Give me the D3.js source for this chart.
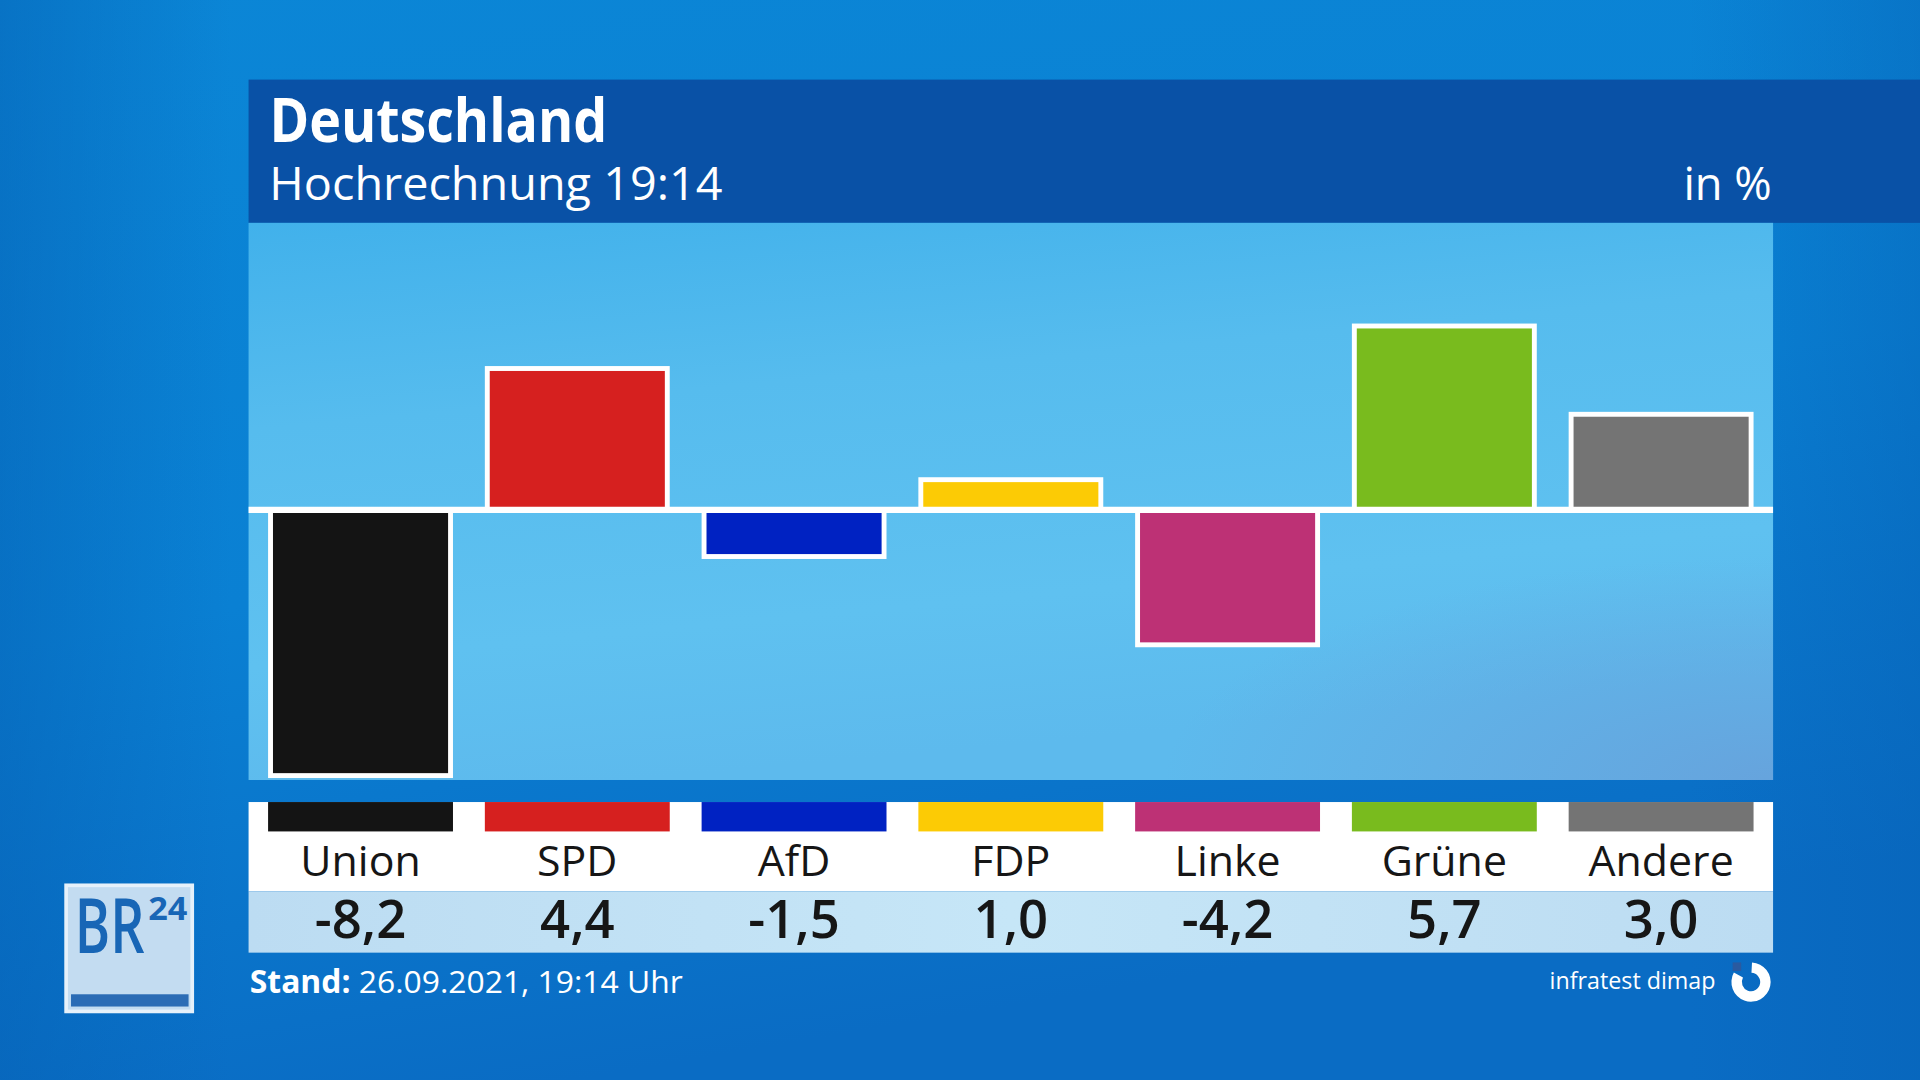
<!DOCTYPE html>
<html>
    <head>
        <meta charset="utf-8">
        <script src="https://d3js.org/d3.v7.min.js"></script>
        <title>Deutschland - Hochrechnung 19:14</title>

        <!-- style -->
        <style>
            html, body {
                margin: 0;
                padding: 0;
                overflow: hidden;
                background: #0a78cc;
            }

            svg {
                display: block;
                font-family: 'Open Sans', 'Noto Sans', sans-serif;
            }
        </style>
    </head>
    <body>
        <svg></svg>
    </body>
    <script>
        // data: Gewinn und Verlust gegenueber 2017, in Prozentpunkten
        var parties = ['Union', 'SPD', 'AfD', 'FDP', 'Linke', 'Grüne', 'Andere'];
        var changes = [-8.2, 4.4, -1.5, 1.0, -4.2, 5.7, 3.0];
        var partyColors = ['#141414', '#d6201f', '#0022c2', '#fccb05', '#bd3175', '#79bb1e', '#747474'];

        var title = 'Deutschland',
            subtitle = 'Hochrechnung 19:14',
            unit = 'in %',
            standLabel = 'Stand:',
            standText = ' 26.09.2021, 19:14 Uhr',
            source = 'infratest dimap';

        var data = parties.map(function (p, i) {
            return {party: p, change: changes[i], color: partyColors[i]};
        });

        // drawn in the 1568 x 882 frame of the broadcast graphic, scaled to the window
        var W = 1568, H = 882;
        var panel = {left: 203, right: 1448, top: 182, bottom: 637};

        var svg = d3.select('svg')
            .attr('width', 1920)
            .attr('height', 1080)
            .attr('viewBox', '0 0 ' + W + ' ' + H);

        // gradients
        var defs = svg.append('defs');

        var bg = defs.append('linearGradient').attr('id', 'bg')
            .attr('x1', 0).attr('y1', 0).attr('x2', 0.3).attr('y2', 1);
        bg.append('stop').attr('offset', '0%').attr('stop-color', '#0b86d6');
        bg.append('stop').attr('offset', '55%').attr('stop-color', '#0a80d3');
        bg.append('stop').attr('offset', '100%').attr('stop-color', '#0a6cc4');

        var bgSide = defs.append('linearGradient').attr('id', 'bgSide')
            .attr('x1', 0).attr('y1', 0).attr('x2', 1).attr('y2', 0);
        bgSide.append('stop').attr('offset', '0%').attr('stop-color', '#0560b4').attr('stop-opacity', 0.5);
        bgSide.append('stop').attr('offset', '12%').attr('stop-color', '#0560b4').attr('stop-opacity', 0);
        bgSide.append('stop').attr('offset', '88%').attr('stop-color', '#0560b4').attr('stop-opacity', 0);
        bgSide.append('stop').attr('offset', '100%').attr('stop-color', '#0560b4').attr('stop-opacity', 0.4);

        var area = defs.append('linearGradient').attr('id', 'area')
            .attr('x1', 0).attr('y1', 0).attr('x2', 0.25).attr('y2', 1);
        area.append('stop').attr('offset', '0%').attr('stop-color', '#41b1eb');
        area.append('stop').attr('offset', '35%').attr('stop-color', '#56bcee');
        area.append('stop').attr('offset', '75%').attr('stop-color', '#5fc1f0');
        area.append('stop').attr('offset', '100%').attr('stop-color', '#5dbaed');

        var areaCorner = defs.append('radialGradient').attr('id', 'areaCorner')
            .attr('cx', 1).attr('cy', 1).attr('r', 0.4);
        areaCorner.append('stop').attr('offset', '0%').attr('stop-color', '#6a9ad6').attr('stop-opacity', 0.7);
        areaCorner.append('stop').attr('offset', '100%').attr('stop-color', '#6a9ad6').attr('stop-opacity', 0);

        var values = defs.append('linearGradient').attr('id', 'values')
            .attr('x1', 0).attr('y1', 0).attr('x2', 1).attr('y2', 0);
        values.append('stop').attr('offset', '0%').attr('stop-color', '#bcdcf2');
        values.append('stop').attr('offset', '50%').attr('stop-color', '#c6e6f7');
        values.append('stop').attr('offset', '100%').attr('stop-color', '#bcdcf2');

        // background
        svg.append('rect').attr('width', W).attr('height', H).attr('fill', 'url(#bg)');
        svg.append('rect').attr('width', W).attr('height', H).attr('fill', 'url(#bgSide)');

        // header
        svg.append('rect')
            .attr('x', panel.left).attr('y', 65)
            .attr('width', W - panel.left).attr('height', panel.top - 65)
            .attr('fill', '#0951a6');

        svg.append('text')
            .attr('x', 220).attr('y', 116)
            .attr('fill', 'white')
            .style('font-size', '50px')
            .style('font-weight', 700)
            .attr('textLength', 276)
            .attr('lengthAdjust', 'spacingAndGlyphs')
            .text(title);

        svg.append('text')
            .attr('x', 220).attr('y', 163)
            .attr('fill', 'white')
            .style('font-size', '38px')
            .style('font-weight', 500)
            .attr('textLength', 370)
            .attr('lengthAdjust', 'spacingAndGlyphs')
            .text(subtitle);

        svg.append('text')
            .attr('x', 1447).attr('y', 163)
            .attr('fill', 'white')
            .style('font-size', '37px')
            .style('font-weight', 500)
            .style('text-anchor', 'end')
            .text(unit);

        // chart panel
        svg.append('rect')
            .attr('x', panel.left).attr('y', panel.top)
            .attr('width', panel.right - panel.left).attr('height', panel.bottom - panel.top)
            .attr('fill', 'url(#area)');
        svg.append('rect')
            .attr('x', panel.left).attr('y', panel.top)
            .attr('width', panel.right - panel.left).attr('height', panel.bottom - panel.top)
            .attr('fill', 'url(#areaCorner)');

        // scales
        var xScale = d3.scaleBand()
            .domain(parties)
            .range([panel.left, panel.right])
            .paddingInner(0.147)
            .paddingOuter(0.09);

        var yScale = d3.scaleLinear()
            .domain([-8.26, 8.78])
            .range([panel.bottom, panel.top]);

        var stroke = 4;
        var y0 = yScale(0);

        // bars
        svg.selectAll('.bar').data(data)
            .enter().append('rect')
                .attr('class', 'bar')
                .attr('x', function (d) { return xScale(d.party) + stroke / 2; })
                .attr('width', xScale.bandwidth() - stroke)
                .attr('y', function (d) { return d.change > 0 ? yScale(d.change) + stroke / 2 : y0; })
                .attr('height', function (d) { return Math.abs(yScale(d.change) - y0) - stroke / 2; })
                .attr('fill', function (d) { return d.color; })
                .attr('stroke', 'white')
                .attr('stroke-width', stroke);

        // zero line
        svg.append('line')
            .attr('x1', panel.left).attr('x2', panel.right)
            .attr('y1', y0).attr('y2', y0)
            .attr('stroke', 'white')
            .attr('stroke-width', 5);

        // legend
        svg.append('rect')
            .attr('x', panel.left).attr('y', 655)
            .attr('width', panel.right - panel.left).attr('height', 73)
            .attr('fill', 'white');
        svg.append('rect')
            .attr('x', panel.left).attr('y', 728)
            .attr('width', panel.right - panel.left).attr('height', 50)
            .attr('fill', 'url(#values)');

        var fmt = d3.formatLocale({decimal: ',', thousands: '.', grouping: [3], currency: ['', ' €'], minus: '-'}).format('.1f');

        var legend = svg.selectAll('.legend').data(data)
            .enter().append('g')
                .attr('class', 'legend')
                .attr('transform', function (d) { return 'translate(' + xScale(d.party) + ',0)'; });

        legend.append('rect')
            .attr('y', 655)
            .attr('width', xScale.bandwidth())
            .attr('height', 24)
            .attr('fill', function (d) { return d.color; });

        legend.append('text')
            .attr('x', xScale.bandwidth() / 2)
            .attr('y', 715)
            .attr('fill', '#161616')
            .style('font-size', '35px')
            .style('font-weight', 500)
            .style('text-anchor', 'middle')
            .text(function (d) { return d.party; });

        legend.append('text')
            .attr('x', xScale.bandwidth() / 2)
            .attr('y', 766)
            .attr('fill', '#161616')
            .style('font-size', '43px')
            .style('font-weight', 600)
            .style('text-anchor', 'middle')
            .text(function (d) { return fmt(d.change); });

        // footer
        var stand = svg.append('text')
            .attr('x', 204).attr('y', 811)
            .attr('fill', 'white')
            .style('font-size', '26px')
            .style('font-weight', 500);
        stand.append('tspan').style('font-weight', 700).text(standLabel);
        stand.append('tspan').text(standText);

        svg.append('text')
            .attr('x', 1401).attr('y', 808)
            .attr('fill', 'white')
            .style('font-size', '19px')
            .style('font-weight', 500)
            .style('text-anchor', 'end')
            .text(source);

        var ring = d3.arc()
            .innerRadius(7.5)
            .outerRadius(16)
            .startAngle(0.05)
            .endAngle(Math.PI * 2 * 0.83);
        svg.append('path')
            .attr('transform', 'translate(1430,802)')
            .attr('d', ring())
            .attr('fill', 'white');
        svg.append('rect')
            .attr('x', 1415).attr('y', 786)
            .attr('width', 7).attr('height', 7)
            .attr('fill', '#2a5aa0');

        // BR24 logo
        var logo = svg.append('g');
        logo.append('rect')
            .attr('x', 54).attr('y', 723)
            .attr('width', 103).attr('height', 103)
            .attr('fill', '#c3dcf1')
            .attr('stroke', '#e6f1fa')
            .attr('stroke-width', 3);
        logo.append('text')
            .attr('x', 61).attr('y', 778)
            .attr('fill', '#1866b6')
            .style('font-size', '62px')
            .style('font-weight', 600)
            .attr('textLength', 57)
            .attr('lengthAdjust', 'spacingAndGlyphs')
            .text('BR');
        logo.append('text')
            .attr('x', 121).attr('y', 751)
            .attr('fill', '#1866b6')
            .style('font-size', '26px')
            .style('font-weight', 700)
            .attr('textLength', 32)
            .attr('lengthAdjust', 'spacingAndGlyphs')
            .text('24');
        logo.append('rect')
            .attr('x', 58).attr('y', 812)
            .attr('width', 96).attr('height', 10)
            .attr('fill', '#2b6cb5');
    </script>
</html>
